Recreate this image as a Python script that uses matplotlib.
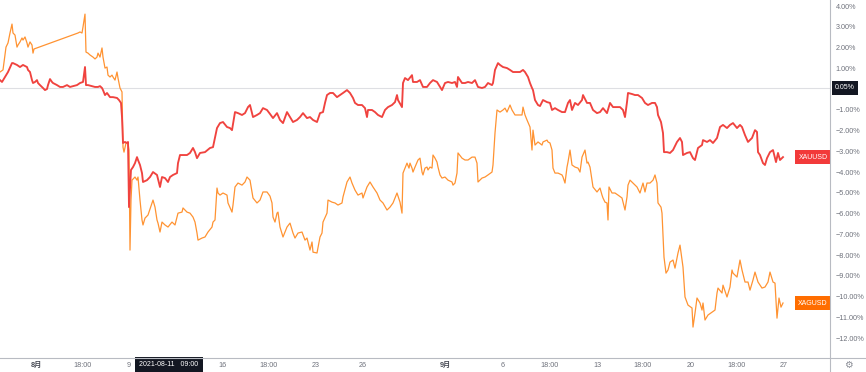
import matplotlib
matplotlib.use("Agg")
import matplotlib.pyplot as plt
import matplotlib.transforms as mtransforms
from matplotlib.lines import Line2D
from matplotlib.ticker import FixedLocator, FuncFormatter

plt.rcParams['font.family'] = ['Liberation Sans', 'Noto Sans CJK SC', 'DejaVu Sans']

# bar index (time slot on the compressed trading axis) and % change vs start
xag_bar = [0, 3, 6, 8, 10, 12, 13, 15, 17, 18,
           20, 22, 23, 25, 27, 28, 30, 32, 33, 34,
           78, 80, 82, 83, 85, 86, 88, 90, 93, 95,
           97, 98, 100, 102, 103, 105, 107, 108, 110, 112,
           113, 115, 117, 118, 120, 122, 123, 124, 126, 128,
           129, 130, 131, 132, 134, 135, 137, 138, 140, 142,
           143, 145, 148, 152, 153, 155, 157, 158, 160, 162,
           165, 168, 172, 175, 178, 182, 183, 187, 190, 193,
           195, 197, 198, 202, 205, 208, 212, 213, 215, 217,
           218, 220, 223, 227, 228, 232, 233, 235, 238, 242,
           245, 247, 250, 253, 257, 260, 263, 267, 270, 272,
           273, 275, 277, 278, 280, 283, 287, 290, 293, 295,
           298, 302, 305, 307, 310, 312, 313, 317, 320, 322,
           323, 327, 328, 332, 335, 338, 342, 343, 347, 350,
           352, 355, 358, 362, 363, 367, 370, 373, 377, 380,
           383, 387, 390, 393, 397, 400, 402, 403, 407, 409,
           410, 412, 413, 415, 418, 420, 422, 423, 425, 427,
           428, 430, 432, 433, 435, 437, 438, 440, 442, 445,
           448, 452, 453, 455, 457, 458, 462, 465, 468, 472,
           475, 477, 478, 482, 485, 488, 492, 493, 495, 497,
           500, 503, 505, 507, 510, 512, 515, 518, 522, 523,
           525, 527, 530, 532, 533, 535, 538, 542, 543, 547,
           548, 550, 552, 553, 555, 558, 562, 563, 565, 567,
           568, 570, 572, 575, 578, 580, 582, 585, 587, 588,
           590, 592, 593, 597, 600, 602, 603, 605, 607, 608,
           609, 612, 615, 618, 622, 625, 627, 628, 630, 633,
           637, 640, 643, 645, 647, 650, 653, 655, 657, 658,
           661, 662, 664, 666, 668, 670, 673, 675, 678, 680,
           683, 685, 688, 692, 693, 695, 697, 700, 702, 703,
           705, 708, 712, 715, 717, 718, 722, 723, 727, 730,
           732, 733, 737, 740, 742, 745, 748, 750, 753, 755,
           758, 762, 765, 768, 770, 773, 775, 777, 779, 781,
           783]
xag_pct = [0.82, 0.92, 2.02, 2.22, 2.70, 3.13, 2.70, 2.60, 2.02, 2.12,
           2.27, 2.46, 2.36, 2.51, 2.22, 2.02, 2.27, 2.12, 1.73, 1.93,
           2.70, 2.75, 2.70, 2.99, 3.61, 1.78, 1.73, 1.64, 1.54, 1.45,
           1.54, 1.73, 1.54, 1.98, 1.54, 1.01, 1.06, 0.67, 0.58, 0.67,
           0.58, 0.43, 0.82, 0.53, 0.05, -0.14, -2.80, -3.04, -2.60, -2.60,
           -2.94, -7.76, -5.35, -4.39, -4.29, -4.24, -4.39, -4.24, -5.35, -6.31,
           -6.55, -6.22, -6.07, -5.49, -5.35, -5.69, -6.31, -6.46, -6.89, -6.41,
           -6.55, -6.65, -6.41, -6.55, -5.98, -5.93, -5.73, -5.93, -5.98, -6.17,
           -6.41, -6.94, -7.28, -7.18, -7.13, -6.89, -6.65, -6.41, -6.31, -4.77,
           -5.01, -5.11, -5.01, -5.11, -5.49, -5.93, -5.59, -4.72, -4.53, -4.63,
           -4.48, -4.24, -4.39, -5.25, -5.49, -5.35, -4.96, -4.96, -5.16, -5.49,
           -6.17, -6.41, -5.98, -5.93, -6.65, -7.13, -6.65, -6.46, -6.94, -7.18,
           -6.94, -6.89, -7.28, -7.18, -7.76, -7.37, -7.86, -7.90, -7.13, -6.94,
           -6.41, -5.98, -5.35, -5.45, -5.49, -5.59, -5.49, -5.20, -4.48, -4.24,
           -4.53, -4.87, -5.11, -5.01, -5.25, -4.72, -4.48, -4.72, -5.01, -5.35,
           -5.49, -5.83, -5.69, -5.49, -5.01, -5.45, -5.98, -4.05, -3.57, -3.81,
           -3.57, -3.81, -4.00, -3.76, -3.42, -3.33, -4.00, -4.14, -3.81, -3.76,
           -3.90, -3.76, -3.81, -3.18, -3.33, -3.52, -3.76, -4.14, -4.29, -4.24,
           -4.39, -4.48, -4.63, -4.53, -4.05, -3.08, -3.33, -3.42, -3.42, -3.28,
           -3.28, -3.57, -4.48, -4.29, -4.24, -4.14, -4.00, -3.66, -2.12, -1.01,
           -1.11, -1.01, -0.92, -1.11, -0.77, -1.01, -1.25, -1.25, -1.25, -0.87,
           -1.25, -1.49, -1.83, -2.94, -1.98, -2.70, -2.55, -2.70, -2.55, -2.46,
           -2.55, -2.60, -2.94, -3.81, -4.05, -4.05, -4.14, -4.24, -4.53, -3.76,
           -3.52, -2.94, -3.66, -3.76, -3.81, -4.00, -3.28, -2.94, -3.57, -3.52,
           -3.76, -4.39, -4.72, -4.96, -4.77, -5.11, -5.25, -5.45, -5.49, -6.31,
           -4.72, -5.01, -5.01, -5.11, -5.25, -5.83, -5.20, -4.63, -4.39, -4.53,
           -4.72, -5.01, -4.53, -4.96, -4.53, -4.53, -4.39, -4.14, -4.53, -5.49,
           -5.69, -5.98, -8.10, -8.87, -8.72, -8.34, -8.24, -8.63, -7.90, -7.52,
           -8.58, -10.02, -10.41, -10.55, -11.47, -10.80, -10.07, -10.31, -10.65, -10.31,
           -11.13, -10.89, -10.75, -10.65, -9.83, -9.59, -9.83, -9.45, -10.02, -9.54,
           -8.72, -8.87, -9.06, -8.24, -8.72, -9.30, -9.30, -9.69, -9.20, -8.82,
           -9.30, -9.59, -9.54, -9.30, -8.82, -9.30, -9.35, -11.04, -10.07, -10.51,
           -10.31]

xau_bar = [0, 2, 5, 8, 12, 13, 17, 20, 23, 27,
           28, 30, 32, 33, 35, 37, 38, 40, 42, 43,
           45, 47, 48, 50, 52, 53, 57, 60, 63, 67,
           70, 73, 77, 80, 83, 85, 86, 88, 92, 95,
           98, 100, 102, 103, 105, 107, 110, 113, 117, 119,
           121, 122, 123, 125, 127, 128, 129, 131, 133, 135,
           137, 138, 140, 142, 143, 147, 150, 153, 157, 160,
           162, 165, 168, 170, 173, 177, 178, 180, 183, 187,
           190, 193, 195, 197, 200, 205, 210, 213, 217, 220,
           223, 227, 230, 232, 235, 238, 242, 245, 248, 250,
           253, 257, 260, 263, 267, 270, 273, 277, 280, 283,
           287, 290, 293, 297, 300, 303, 307, 310, 313, 317,
           320, 323, 325, 327, 330, 333, 337, 340, 343, 347,
           350, 353, 355, 358, 362, 365, 367, 368, 372, 375,
           378, 382, 385, 388, 392, 395, 397, 398, 402, 403,
           405, 408, 412, 413, 417, 420, 423, 427, 430, 433,
           437, 440, 442, 445, 448, 452, 455, 457, 458, 462,
           465, 468, 472, 475, 478, 482, 485, 488, 492, 493,
           495, 498, 500, 503, 507, 510, 513, 517, 520, 523,
           525, 528, 530, 532, 533, 535, 538, 540, 543, 547,
           550, 552, 555, 558, 562, 565, 568, 570, 572, 575,
           578, 582, 583, 587, 590, 593, 597, 600, 603, 607,
           610, 613, 617, 620, 623, 625, 627, 628, 632, 635,
           638, 642, 645, 648, 652, 655, 657, 658, 661, 663,
           664, 667, 670, 673, 677, 680, 682, 683, 687, 690,
           693, 695, 698, 702, 703, 707, 710, 713, 717, 720,
           723, 727, 730, 733, 737, 740, 742, 745, 748, 752,
           755, 757, 758, 760, 763, 765, 767, 770, 773, 776,
           778, 780, 783]
xau_pct = [0.43, 0.34, 0.58, 0.82, 1.25, 1.25, 1.16, 1.06, 1.16, 1.06,
           0.92, 0.82, 0.43, 0.29, 0.34, 0.43, 0.29, 0.19, 0.10, 0.05,
           -0.05, 0.00, 0.19, 0.48, 0.34, 0.29, 0.19, 0.10, 0.10, 0.19,
           0.10, 0.14, 0.19, 0.29, 0.34, 1.06, 0.19, 0.19, 0.14, 0.10,
           0.10, 0.14, 0.05, -0.05, -0.29, -0.19, -0.39, -0.39, -0.43, -0.53,
           -0.67, -1.35, -2.60, -2.55, -2.60, -2.55, -5.69, -3.90, -3.76, -3.57,
           -3.28, -3.42, -3.66, -4.05, -4.48, -4.39, -4.24, -4.00, -4.14, -4.72,
           -4.24, -4.29, -4.48, -4.24, -4.14, -4.05, -3.57, -3.18, -3.18, -3.18,
           -3.08, -2.84, -3.04, -3.33, -3.08, -3.04, -2.84, -2.80, -1.88, -1.64,
           -1.59, -1.83, -1.88, -1.98, -1.11, -1.16, -1.25, -1.16, -0.87, -0.77,
           -1.35, -1.25, -1.16, -0.92, -1.01, -1.20, -1.40, -1.16, -1.49, -1.64,
           -1.11, -1.35, -1.59, -1.49, -1.35, -1.16, -1.40, -1.35, -1.49, -1.59,
           -1.16, -1.11, -0.67, -0.29, -0.19, -0.19, -0.39, -0.29, -0.19, -0.05,
           -0.19, -0.43, -0.67, -0.77, -0.77, -0.92, -1.35, -1.01, -1.01, -1.11,
           -1.25, -1.35, -1.01, -0.87, -0.77, -0.63, -0.29, -0.53, -0.87, 0.29,
           0.53, 0.43, 0.67, 0.34, 0.34, 0.43, 0.10, 0.10, 0.29, 0.43,
           0.34, 0.10, -0.05, 0.29, 0.34, 0.29, 0.34, 0.10, 0.58, 0.29,
           0.29, 0.34, 0.29, 0.43, 0.10, 0.05, 0.10, 0.29, 0.19, 0.29,
           0.92, 1.25, 1.16, 1.06, 1.01, 0.92, 0.82, 0.82, 0.82, 0.92,
           0.82, 0.58, 0.29, 0.05, -0.05, -0.53, -0.77, -0.82, -0.53, -0.63,
           -0.67, -1.01, -0.92, -1.01, -1.11, -1.11, -0.67, -0.53, -1.01, -0.67,
           -0.77, -0.53, -0.29, -0.67, -0.67, -1.01, -1.16, -1.11, -0.92, -1.16,
           -0.67, -0.87, -0.87, -0.87, -1.01, -1.35, -0.63, -0.19, -0.24, -0.29,
           -0.29, -0.43, -0.67, -0.77, -0.67, -0.67, -0.87, -1.25, -1.59, -2.12,
           -3.04, -3.04, -3.08, -2.94, -2.55, -2.36, -2.55, -3.18, -3.08, -3.04,
           -3.33, -3.42, -2.84, -2.70, -2.46, -2.55, -2.46, -2.60, -2.36, -1.83,
           -1.73, -1.88, -1.73, -1.64, -1.88, -1.73, -1.83, -2.22, -2.55, -2.36,
           -1.98, -2.07, -3.04, -3.18, -3.57, -3.66, -3.33, -3.04, -2.94, -3.52,
           -3.08, -3.42, -3.28]

tick_bars = [36, 83, 129, 223, 269, 316, 363, 445, 503, 550, 597, 643, 691, 737, 784]
tick_labels = ['8月', '18:00', '9', '16', '18:00', '23', '26', '9月',
               '6', '18:00', '13', '18:00', '20', '18:00', '27']
bold_ticks = ['8月', '9月']
pct_ticks = [4, 3, 2, 1, -1, -2, -3, -4, -5, -6, -7, -8, -9, -10, -11, -12]

crosshair_bar = 169
crosshair_label = '2021-08-11   09:00'
crosshair_pct = 0.05

RED = '#f0433f'
ORANGE = '#ff9332'
GREY_TXT = '#6f727c'
AXIS_GREY = '#b8bbc2'
DARK = '#131722'

W, H = 866, 372
fig = plt.figure(figsize=(W / 100, H / 100), dpi=100)
ax = fig.add_axes([0, 14 / H, 830 / W, 358 / H])

ax.plot(xag_bar, xag_pct, color=ORANGE, lw=0.9, zorder=2)
ax.plot(xau_bar, xau_pct, color=RED, lw=1.35, zorder=3)

ax.set_xlim(0, 830)
ax.set_ylim(-12.96, 4.29)

# crosshair horizontal line
ax.axhline(crosshair_pct, color='#dedfe3', lw=0.8, zorder=1)

for s in ax.spines.values():
    s.set_visible(False)

ax.yaxis.tick_right()
ax.yaxis.set_major_locator(FixedLocator(pct_ticks))
ax.yaxis.set_major_formatter(FuncFormatter(lambda v, p: f"{v:.2f}%".replace('-', '\u2212')))
ax.tick_params(axis='y', length=0, pad=4, labelsize=5.2, labelcolor=GREY_TXT)

ax.xaxis.set_major_locator(FixedLocator(tick_bars))
ax.set_xticklabels(tick_labels)
ax.tick_params(axis='x', length=0, pad=3.2, labelsize=5.2, labelcolor=GREY_TXT)
for lab in ax.get_xticklabels():
    if lab.get_text() in bold_ticks:
        lab.set_fontweight('bold')
        lab.set_color('#4a4d57')

# axis borders spanning the scale areas
fig.add_artist(Line2D([0, 1], [14 / H, 14 / H], color=AXIS_GREY, lw=0.8))
fig.add_artist(Line2D([830 / W, 830 / W], [0, 1], color=AXIS_GREY, lw=0.8))

# last value labels on the price scale
ytrans = mtransforms.blended_transform_factory(ax.transAxes, ax.transData)
for name, vals, col in [('XAUUSD', xau_pct, '#f23a3a'), ('XAGUSD', xag_pct, '#ff6d00')]:
    ax.text(0.997, vals[-1], name, transform=ytrans, ha='right', va='center',
            fontsize=5, color='white', zorder=5, clip_on=False,
            bbox=dict(boxstyle='square,pad=0.45', fc=col, ec='none'))

# crosshair labels
ax.text(1.006, crosshair_pct, '0.05%', transform=ytrans, ha='left', va='center',
        fontsize=5, color='white', zorder=5, clip_on=False,
        bbox=dict(boxstyle='square,pad=0.5', fc=DARK, ec='none'))
xtrans = mtransforms.blended_transform_factory(ax.transData, ax.transAxes)
ax.annotate(crosshair_label, xy=(crosshair_bar, 0), xycoords=xtrans,
            xytext=(0, -5), textcoords='offset points', ha='center', va='center',
            fontsize=5, color='white', zorder=5, annotation_clip=False,
            bbox=dict(boxstyle='square,pad=0.6', fc=DARK, ec='none'))

# settings gear in the corner
fig.text(848 / W, 7 / H, '\u2699', ha='center', va='center', fontsize=7,
         color='#8a8d96', family=['DejaVu Sans'])

fig.savefig('out.png', dpi=100, facecolor='white')
